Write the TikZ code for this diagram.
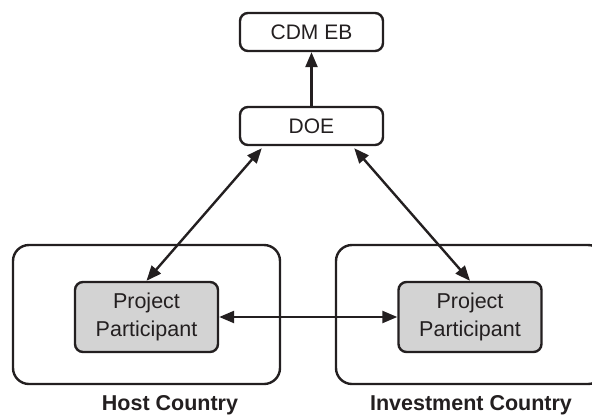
\documentclass[tikz,border=0pt]{standalone}
\usepackage{fontspec}
\setmainfont{Liberation Sans}
\usetikzlibrary{arrows.meta}
\definecolor{ink}{HTML}{231F20}
\definecolor{pfill}{HTML}{D3D3D3}
\begin{document}
\begin{tikzpicture}[x=1pt,y=-1pt,
  every node/.style={text=ink},
  small/.style={draw=ink, line width=2.4pt, rounded corners=8pt, fill=white,
    minimum width=143pt, minimum height=38pt, font=\fontsize{21}{26}\selectfont, inner sep=0pt},
  part/.style={small, fill=pfill, minimum height=70pt, align=center,
    font=\fontsize{21.5}{27.5}\selectfont},
  region/.style={draw=ink, line width=2.4pt, rounded corners=16pt, inner sep=0pt},
  country/.style={font=\bfseries\fontsize{21.5}{24}\selectfont, inner sep=0pt},
  link/.style={draw=ink, line width=2.4pt, {Triangle[length=15pt,width=12pt]}-{Triangle[length=15pt,width=12pt]}},
  uplink/.style={draw=ink, line width=2.4pt, -{Triangle[length=15pt,width=12pt]}}]
\useasboundingbox (0,0) rectangle (592,416);
\clip (0,0) rectangle (592,416);

% country regions
\node[region, minimum width=267pt, minimum height=139pt] (host) at (146.5,314.5) {};
\node[region, minimum width=268pt, minimum height=139pt] (inv) at (470,314.5) {};

% boxes
\node[small] (eb) at (311.5,32) {CDM EB};
\node[small] (doe) at (311.5,126) {DOE};
\node[part] (pph) at (146.5,317) {Project\\Participant};
\node[part] (ppi) at (470,317) {Project\\Participant};

% labels
\node[country] (lh) at (170,405) {Host Country};
\node[country] (li) at (471,405) {Investment Country};

% connectors
\draw[uplink] (doe) -- (eb);
\path (doe.south west) ++(23,2) coordinate (d1);
\draw[link] (d1) -- (pph.north);
\path (doe.south east) ++(-30,2) coordinate (d2);
\draw[link] (d2) -- (ppi.north);
\draw[link] (pph) -- (ppi);
\end{tikzpicture}
\end{document}
